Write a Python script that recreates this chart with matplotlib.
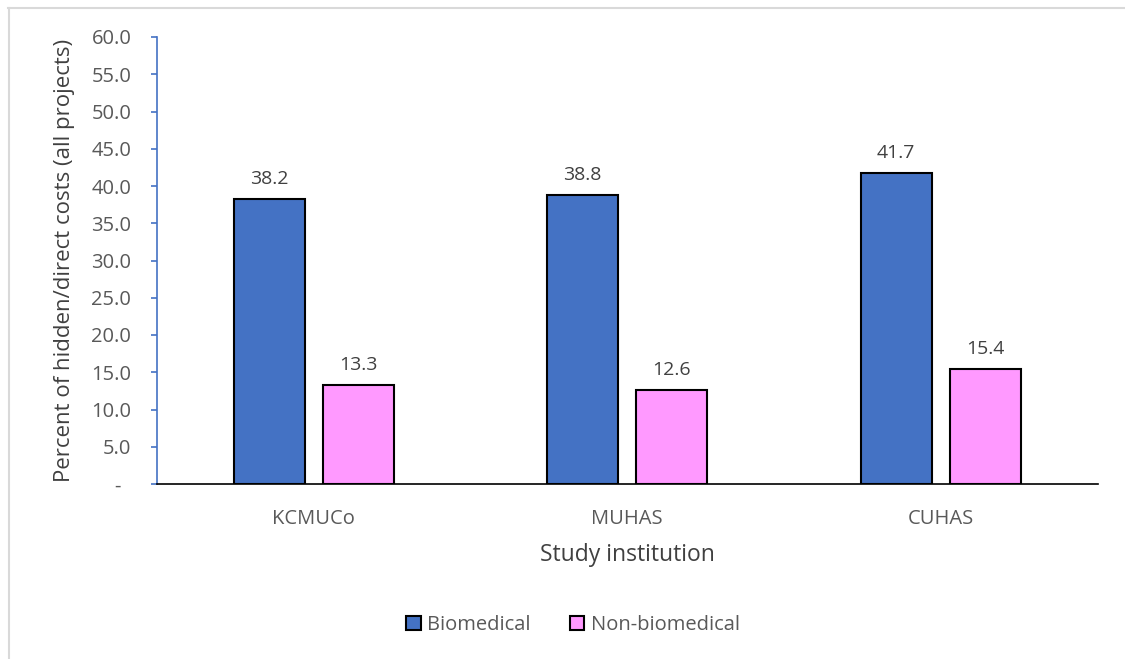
import numpy as np
import matplotlib
matplotlib.use("Agg")
from matplotlib import pyplot as plt
from matplotlib.lines import Line2D
from matplotlib.transforms import ScaledTranslation

# data
institutions = ["KCMUCo", "MUHAS", "CUHAS"]
biomedical = [38.2, 38.8, 41.7]
non_biomedical = [13.3, 12.6, 15.4]
series_names = ["Biomedical", "Non-biomedical"]
y_ticks = [0, 5, 10, 15, 20, 25, 30, 35, 40, 45, 50, 55, 60]

plt.rcParams["font.family"] = ["Open Sans", "DejaVu Sans"]
GREY = "#595959"
BLUE = "#4472C4"
PINK = "#FF99FF"

fig = plt.figure(figsize=(11.25, 6.59), dpi=100)
ax = fig.add_axes([157 / 1125, 1 - 484 / 659, 940.5 / 1125, 447 / 659])

x = np.arange(len(institutions))
w = 0.226
off = 0.142
b1 = ax.bar(x - off, biomedical, w, color=BLUE, edgecolor="black", linewidth=1.5,
            label=series_names[0])
b2 = ax.bar(x + off, non_biomedical, w, color=PINK, edgecolor="black", linewidth=1.5,
            label=series_names[1])

for bars, vals in ((b1, biomedical), (b2, non_biomedical)):
    for bar, v in zip(bars, vals):
        ax.annotate(f"{v:.1f}", (bar.get_x() + bar.get_width() / 2, v),
                    xytext=(0, 8), textcoords="offset points",
                    ha="center", va="bottom", fontsize=14, color="#404040")

ax.set_xlim(-0.5, len(institutions) - 0.5)
ax.set_ylim(0, 60)
ax.set_yticks(y_ticks)
# excel accounting style: zero shown as a dash
ax.set_yticklabels(["-"] + [f"{t:.1f}" for t in y_ticks[1:]])
ax.set_xticks(x)
ax.set_xticklabels(institutions)

for s in ("top", "right"):
    ax.spines[s].set_visible(False)
ax.spines["left"].set_color(BLUE)
ax.spines["left"].set_linewidth(1.2)
ax.spines["bottom"].set_color("black")
ax.spines["bottom"].set_linewidth(1.2)
ax.spines["bottom"].set_zorder(3)

ax.tick_params(axis="y", colors=BLUE, labelcolor=GREY, labelsize=14.5,
               length=4.5, width=1.2, pad=14)
ax.tick_params(axis="x", length=0, labelcolor=GREY, labelsize=14.5, pad=18)

# shift the dash left a bit, like the accounting format padding
zero_lbl = ax.yaxis.get_major_ticks()[0].label1
zero_lbl.set_transform(zero_lbl.get_transform()
                       + ScaledTranslation(-8 / 72, 0, fig.dpi_scale_trans))

ax.set_xlabel("Study institution", fontsize=16.5, color="#404040", labelpad=10)
ax.set_ylabel("Percent of hidden/direct costs (all projects)", fontsize=16,
              color="#404040", labelpad=12)

leg = fig.legend(loc="center", bbox_to_anchor=(573 / 1125, 1 - 625 / 659),
                 ncol=2, frameon=False, fontsize=14.5, handlelength=0.7,
                 handleheight=0.7, handletextpad=0.3, columnspacing=2.0)
for t in leg.get_texts():
    t.set_color(GREY)

# light grey chart-area border (top and left visible)
fig.add_artist(Line2D([8 / 1125, 1], [1 - 8 / 659, 1 - 8 / 659],
                      color="#D9D9D9", linewidth=1.5, transform=fig.transFigure))
fig.add_artist(Line2D([8.5 / 1125, 8.5 / 1125], [0, 1 - 8 / 659],
                      color="#D9D9D9", linewidth=1.5, transform=fig.transFigure))

fig.savefig("out.png", dpi=100)
